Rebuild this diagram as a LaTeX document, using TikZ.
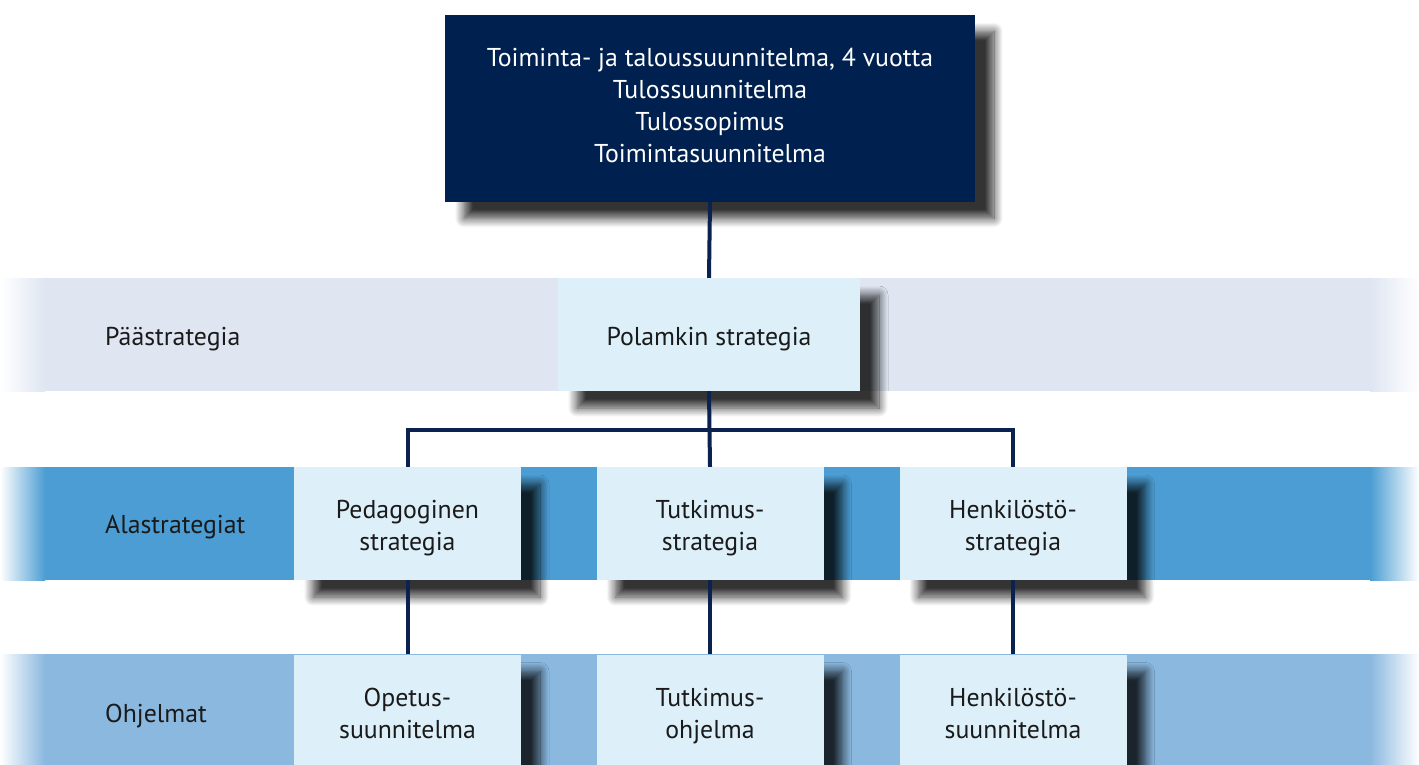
\documentclass[tikz,border=0pt]{standalone}
\usepackage{fontspec}
\setmainfont{PT Sans}
\usetikzlibrary{shadows.blur}
\definecolor{navy}{HTML}{00214F}
\definecolor{linec}{HTML}{0B2150}
\definecolor{bandA}{HTML}{DFE6F2}
\definecolor{bandB}{HTML}{4B9DD3}
\definecolor{bandC}{HTML}{8AB8DF}
\definecolor{boxc}{HTML}{DDF0F9}
\definecolor{txt}{HTML}{1A1A1A}
\tikzset{
  shd/.style={blur shadow={shadow xshift=19pt, shadow yshift=-17pt, shadow blur radius=9pt, shadow blur steps=12, shadow opacity=80}},
  lbox/.style={shd, fill=boxc, minimum width=227pt, minimum height=113pt, inner sep=0pt},
  btxt/.style={inner sep=0pt, align=center, text=txt, font=\fontsize{25.8}{32}\selectfont},
  rowlabel/.style={anchor=base west, inner sep=0pt, text=txt, font=\fontsize{25.8}{32}\selectfont},
  conn/.style={draw=linec, line width=4pt},
}
\begin{document}
\begin{tikzpicture}[x=1pt,y=-1pt]
\useasboundingbox (0,0) rectangle (1419,764);
% bands
\foreach \ya/\yb/\c in {278/391/bandA, 467/580/bandB, 654/768/bandC}{
  \fill[\c] (45,\ya) rectangle (1370,\yb);
  \shade[left color=white, right color=\c] (0,\ya) rectangle (45,\yb);
  \shade[left color=\c, right color=white] (1370,\ya) rectangle (1419,\yb);
}
% row labels
\node[rowlabel] (l1) at (105,345) {Päästrategia};
\node[rowlabel] (l2) at (105,533) {Alastrategiat};
\node[rowlabel] (l3) at (105,722) {Ohjelmat};
% boxes
\node[shd, fill=navy, minimum width=530pt, minimum height=187pt, inner sep=0pt, align=center, text=white, font=\fontsize{25.8}{32}\selectfont] (top) at (710,108)
  {Toiminta- ja taloussuunnitelma, 4 vuotta\\Tulossuunnitelma\\Tulossopimus\\Toimintasuunnitelma\vphantom{g}};
\node[lbox, minimum width=302pt] (pol) at (709,334.5) {};
\node[btxt, anchor=base] (pol-t) at (709,345) {Polamkin strategia};
\node[lbox] (ped) at (407.5,523.5) {};
\node[lbox] (tut) at (710,523.5) {};
\node[lbox] (hen) at (1013,523.5) {};
\node[lbox] (ope) at (407.5,711) {};
\node[lbox] (tuo) at (710,711) {};
\node[lbox] (hsu) at (1013,711) {};
\node[btxt] (ped-t) at ([yshift=-5pt]ped.center) {Pedagoginen\\strategia};
\node[btxt] (tut-t) at ([yshift=-5pt]tut.center) {Tutkimus-\\strategia};
\node[btxt] (hen-t) at ([yshift=-5pt]hen.center) {Henkilöstö-\\strategia};
\node[btxt] (ope-t) at ([yshift=-5pt]ope.center) {Opetus-\\suunnitelma\vphantom{g}};
\node[btxt] (tuo-t) at ([yshift=-5pt]tuo.center) {Tutkimus-\\ohjelma};
\node[btxt] (hsu-t) at ([yshift=-5pt]hsu.center) {Henkilöstö-\\suunnitelma\vphantom{g}};
% connectors
\draw[conn] (top.south) -- (pol.north);
\draw[conn] (pol.south) -- (tut.north);
\draw[conn] (ped.north) -- ++(0,-37) -| (hen.north);
\draw[conn] (ped.south) -- (ope.north);
\draw[conn] (tut.south) -- (tuo.north);
\draw[conn] (hen.south) -- (hsu.north);
\end{tikzpicture}
\end{document}
